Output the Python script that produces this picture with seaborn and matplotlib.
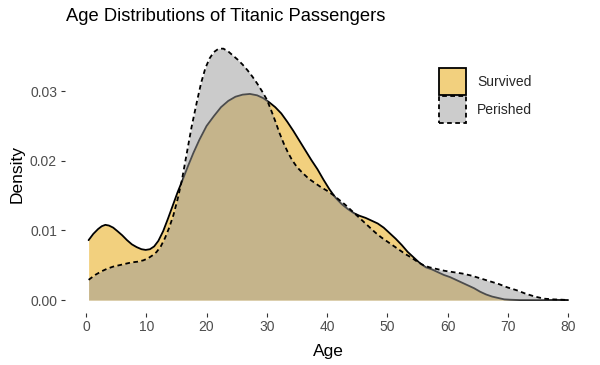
import numpy as np
import pandas as pd
import seaborn as sns
import matplotlib
matplotlib.use("Agg")
import matplotlib.pyplot as plt
from matplotlib.patches import Patch

# ---- data (kernel density estimates) ----
survived_age = [0.42, 1.2, 2.0, 2.6, 3.2, 3.8, 4.5, 5.2, 6.0, 6.8, 7.6, 8.4, 9.2, 9.9,
                10.6, 11.3, 12.0, 12.8, 13.6, 14.4, 15.2, 16.0, 16.9, 17.8, 18.8, 20.0,
                21.2, 22.4, 23.6, 24.8, 26.0, 27.2, 28.4, 29.4, 30.4, 31.4, 32.4, 33.4,
                34.4, 35.4, 36.4, 37.4, 38.4, 39.4, 40.4, 41.4, 42.4, 43.4, 44.4, 45.4,
                46.4, 47.4, 48.4, 49.4, 50.4, 51.4, 52.4, 53.4, 54.4, 55.4, 56.4, 57.4,
                58.4, 59.4, 60.4, 61.4, 62.4, 63.4, 64.4, 65.4, 66.4, 67.4, 68.4, 69.4,
                70.4, 72.0, 75.0, 80.0]
survived_density = [0.0086, 0.0095, 0.0102, 0.0106, 0.0108, 0.0107, 0.0104, 0.0099, 0.0093,
                    0.0086, 0.0080, 0.0076, 0.0073, 0.0072, 0.0073, 0.0077, 0.0085, 0.0099,
                    0.0117, 0.0136, 0.0155, 0.0172, 0.0192, 0.0211, 0.0230, 0.0250, 0.0264,
                    0.0277, 0.0286, 0.0292, 0.0295, 0.0296, 0.0294, 0.0290, 0.0284, 0.0277,
                    0.0268, 0.0256, 0.0243, 0.0229, 0.0215, 0.0201, 0.0188, 0.0173, 0.0159,
                    0.0147, 0.0138, 0.0131, 0.0125, 0.0121, 0.0118, 0.0114, 0.0110, 0.0104,
                    0.0096, 0.0088, 0.0079, 0.0069, 0.0061, 0.0053, 0.0047, 0.0044, 0.0040,
                    0.0036, 0.0033, 0.0029, 0.0025, 0.0021, 0.0017, 0.0012, 0.0008, 0.0005,
                    0.0003, 0.0001, 0.00005, 0.0, 0.0, 0.0]

perished_age = [0.42, 1.5, 2.5, 3.5, 4.5, 5.5, 6.5, 7.5, 8.5, 9.5, 10.3, 11.0, 11.7, 12.4,
                13.1, 13.8, 14.5, 15.2, 15.9, 16.7, 17.5, 18.4, 19.1, 19.8, 20.5, 21.2,
                22.0, 22.8, 23.6, 24.4, 25.2, 26.0, 26.8, 27.6, 28.4, 29.2, 30.0, 30.7,
                31.4, 32.1, 32.8, 33.5, 34.2, 35.0, 36.0, 37.0, 38.0, 39.0, 40.0, 41.0,
                42.0, 43.0, 44.0, 45.0, 46.0, 47.0, 48.0, 49.0, 50.0, 51.0, 52.0, 53.0,
                54.0, 55.0, 56.0, 57.0, 58.0, 59.5, 61.0, 62.5, 64.0, 65.5, 67.0, 68.5,
                70.0, 71.5, 73.0, 74.5, 76.0, 77.5, 79.0, 80.0]
perished_density = [0.0029, 0.0036, 0.0041, 0.0045, 0.0048, 0.0050, 0.0052, 0.0054, 0.0055,
                    0.0057, 0.0060, 0.0064, 0.0069, 0.0077, 0.0089, 0.0104, 0.0122, 0.0145,
                    0.0172, 0.0210, 0.0248, 0.0285, 0.0312, 0.0333, 0.0347, 0.0356, 0.0361,
                    0.0361, 0.0357, 0.0351, 0.0345, 0.0338, 0.0330, 0.0321, 0.0311, 0.0300,
                    0.0288, 0.0273, 0.0257, 0.0240, 0.0225, 0.0212, 0.0201, 0.0191, 0.0182,
                    0.0174, 0.0168, 0.0162, 0.0157, 0.0151, 0.0144, 0.0137, 0.0129, 0.0121,
                    0.0113, 0.0105, 0.0097, 0.0090, 0.0084, 0.0078, 0.0072, 0.0066, 0.0061,
                    0.0055, 0.0050, 0.0047, 0.0045, 0.0042, 0.0040, 0.0038, 0.0035, 0.0031,
                    0.0027, 0.0023, 0.0018, 0.0014, 0.0009, 0.0005, 0.0002, 0.0001, 0.00005,
                    0.0]

x_ticks = [0, 10, 20, 30, 40, 50, 60, 70, 80]
y_ticks = [0.00, 0.01, 0.02, 0.03]
y_tick_labels = ["0.00", "0.01", "0.02", "0.03"]
groups = ["Survived", "Perished"]

surv = pd.DataFrame({"Age": survived_age, "Density": survived_density})
per = pd.DataFrame({"Age": perished_age, "Density": perished_density})

sns.set_theme(style="white")
plt.rcParams["font.family"] = ["Liberation Sans", "DejaVu Sans"]

fig = plt.figure(figsize=(6.0, 3.65), dpi=100)
ax = fig.add_axes([0.1077, 0.1436, 0.8790, 0.7574])

surv_fill = "#F2D07E"
grey_fill = "#999999"
dash = (0, (2.6, 1.9))

ax.fill_between(surv["Age"], 0, surv["Density"], color=surv_fill, linewidth=0, zorder=1)
sns.lineplot(data=surv, x="Age", y="Density", ax=ax, color="black", linewidth=1.3,
             sort=False, zorder=2)
ax.fill_between(per["Age"], 0, per["Density"], color=grey_fill, alpha=0.5, linewidth=0, zorder=3)
sns.lineplot(data=per, x="Age", y="Density", ax=ax, color="black", linewidth=1.3,
             linestyle=dash, sort=False, zorder=4)

ax.set_xlim(-3.56, 83.98)
ax.set_ylim(-0.0018, 0.0379)
ax.set_xticks(x_ticks)
ax.set_yticks(y_ticks)
ax.set_yticklabels(y_tick_labels)
for s in ax.spines.values():
    s.set_visible(False)
ax.tick_params(axis="both", which="major", length=3.2, width=0.8, color="#333333",
               labelcolor="#4D4D4D", labelsize=10, pad=2.2, bottom=True, left=True)

ax.set_xlabel("Age", fontsize=12.5, color="black", labelpad=7)
ax.set_ylabel("Density", fontsize=12.5, color="black", labelpad=4)
ax.set_title("Age Distributions of Titanic Passengers", fontsize=13.2, loc="left",
             color="black", pad=11, x=0.002)

handles = [
    Patch(facecolor=surv_fill, edgecolor="black", linewidth=1.3, linestyle="-"),
    Patch(facecolor="#CCCCCC", edgecolor="black", linewidth=1.3, linestyle=dash),
]
fig.legend(handles, groups, loc="upper left", bbox_to_anchor=(439.3 / 600, 1 - 68.3 / 365),
           frameon=False, fontsize=10, handlelength=1.94, handleheight=2.61,
           labelspacing=0.05, handletextpad=0.8, borderpad=0, borderaxespad=0)

fig.savefig("out.png", dpi=100)
